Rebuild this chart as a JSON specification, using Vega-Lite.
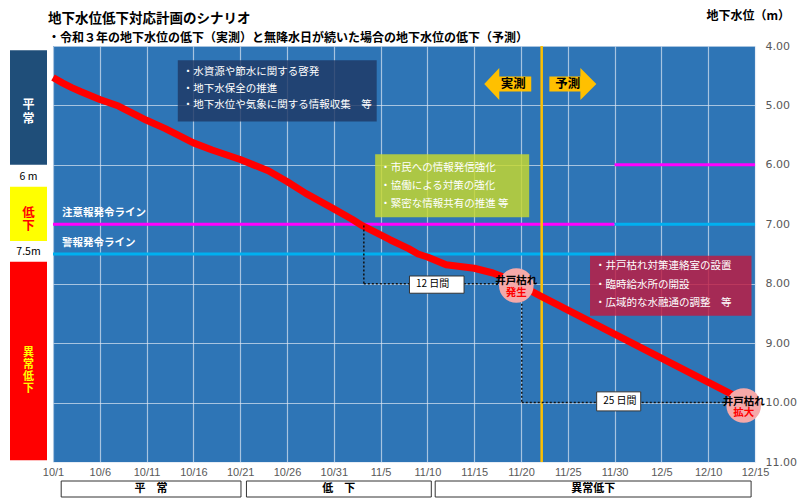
{
  "$schema": "https://vega.github.io/schema/vega-lite/v6.json",
  "autosize": {"type": "pad"},
  "padding": {"left": 10, "top": 9, "right": 0, "bottom": 0},
  "background": "white",
  "config": {"font": "Noto Sans CJK JP", "view": {"stroke": null}},
  "columns": 2,
  "spacing": {"row": 19, "column": 6},
  "bounds": "flush",
  "align": "each",
  "resolve": {"scale": {"color": "independent", "size": "independent", "shape": "independent"}},
  "datasets": {
    "bands": [
      {"band": "平常", "y": 4.07, "y2": 6.0},
      {"band": "低下", "y": 6.37, "y2": 7.28},
      {"band": "異常低下", "y": 7.63, "y2": 10.97}
    ],
    "bandText1": [{"label": "平\n常", "y": 4.99}],
    "bandText2": [{"label": "低\n下", "y": 6.81}],
    "bandText3": [{"label": "異\n常\n低\n下", "y": 9.16}],
    "levelText": [
      {"label": "6 m", "y": 6.2},
      {"label": "7.5m", "y": 7.46}
    ],
    "gw": [
      {"x": "2021/10/01", "y": 4.53}, {"x": "2021/10/02", "y": 4.62}, {"x": "2021/10/03", "y": 4.7},
      {"x": "2021/10/04", "y": 4.77}, {"x": "2021/10/06", "y": 4.9}, {"x": "2021/10/08", "y": 5.01},
      {"x": "2021/10/11", "y": 5.25}, {"x": "2021/10/13", "y": 5.39}, {"x": "2021/10/16", "y": 5.63},
      {"x": "2021/10/18", "y": 5.75}, {"x": "2021/10/21", "y": 5.91}, {"x": "2021/10/24", "y": 6.1},
      {"x": "2021/10/26", "y": 6.28}, {"x": "2021/10/28", "y": 6.48}, {"x": "2021/10/31", "y": 6.74},
      {"x": "2021/11/02", "y": 6.92}, {"x": "2021/11/03", "y": 7.02}, {"x": "2021/11/06", "y": 7.26},
      {"x": "2021/11/08", "y": 7.41}, {"x": "2021/11/09", "y": 7.5}, {"x": "2021/11/10", "y": 7.55},
      {"x": "2021/11/12", "y": 7.68}, {"x": "2021/11/15", "y": 7.74}, {"x": "2021/11/17", "y": 7.82},
      {"x": "2021/11/19", "y": 7.94}, {"x": "2021/11/20", "y": 8.03}, {"x": "2021/11/22", "y": 8.2},
      {"x": "2021/12/13", "y": 9.9}
    ],
    "boxes": [
      {"box": "b1", "x": "2021/10/14 08:00", "x2": "2021/11/04 14:00", "y": 4.24, "y2": 5.27},
      {"box": "b2", "x": "2021/11/04 10:00", "x2": "2021/11/20 21:00", "y": 5.82, "y2": 6.88},
      {"box": "b3", "x": "2021/11/27 09:00", "x2": "2021/12/14 15:00", "y": 7.53, "y2": 8.54}
    ],
    "boxText": [
      {"x": "2021/10/14 08:00", "y": 4.44, "text": "・水資源や節水に関する啓発"},
      {"x": "2021/10/14 08:00", "y": 4.72, "text": "・地下水保全の推進"},
      {"x": "2021/10/14 08:00", "y": 5.0, "text": "・地下水位や気象に関する情報収集　等"},
      {"x": "2021/11/04 10:00", "y": 6.06, "text": "・市民への情報発信強化"},
      {"x": "2021/11/04 10:00", "y": 6.36, "text": "・協働による対策の強化"},
      {"x": "2021/11/04 10:00", "y": 6.66, "text": "・緊密な情報共有の推進 等"},
      {"x": "2021/11/27 09:00", "y": 7.71, "text": "・井戸枯れ対策連絡室の設置"},
      {"x": "2021/11/27 09:00", "y": 8.02, "text": "・臨時給水所の開設"},
      {"x": "2021/11/27 09:00", "y": 8.32, "text": "・広域的な水融通の調整　等"}
    ],
    "levels": [
      {"line": "注意報", "x": "2021/10/01", "x2": "2021/11/30", "y": 7.0},
      {"line": "注意報", "x": "2021/11/30", "x2": "2021/12/15", "y": 6.0},
      {"line": "警報", "x": "2021/10/01", "x2": "2021/11/30", "y": 7.5},
      {"line": "警報", "x": "2021/11/30", "x2": "2021/12/15", "y": 7.0}
    ],
    "lineLabels": [
      {"label": "注意報発令ライン", "x": "2021/10/01", "y": 7.0},
      {"label": "警報発令ライン", "x": "2021/10/01", "y": 7.5}
    ],
    "today": [
      {"x": "2021/11/22 05:00", "y": 4, "y2": 11}
    ],
    "dotted": [
      {"x": "2021/11/03 05:00", "x2": "2021/11/03 05:00", "y": 7.02, "y2": 8.0},
      {"x": "2021/11/03 05:00", "x2": "2021/11/20 02:00", "y": 8.0, "y2": 8.0},
      {"x": "2021/11/20 02:00", "x2": "2021/11/20 02:00", "y": 8.0, "y2": 10.0},
      {"x": "2021/11/20 02:00", "x2": "2021/12/13 19:00", "y": 10.0, "y2": 10.0}
    ],
    "spanBoxes": [
      {"x": "2021/11/08 02:00", "x2": "2021/11/13 22:00", "y": 7.87, "y2": 8.16},
      {"x": "2021/11/28 02:00", "x2": "2021/12/02 19:00", "y": 9.82, "y2": 10.14}
    ],
    "spanText": [
      {"x": "2021/11/08 02:00", "y": 8.01, "label": "12 日間"},
      {"x": "2021/11/28 02:00", "y": 9.98, "label": "25 日間"}
    ],
    "wells": [
      {"x": "2021/11/19 12:00", "y": 8.03, "top": "井戸枯れ", "bottom": "発生"},
      {"x": "2021/12/13 19:00", "y": 10.05, "top": "井戸枯れ", "bottom": "拡大"}
    ],
    "arrows": [
      {"dir": "left", "x": "2021/11/18 14:00", "y": 4.64},
      {"dir": "right", "x": "2021/11/25 13:00", "y": 4.64}
    ],
    "arrowText": [
      {"label": "実測", "x": "2021/11/19 04:00", "y": 4.64},
      {"label": "予測", "x": "2021/11/25 00:00", "y": 4.64}
    ],
    "phases": [
      {"label": "平　常", "x": "2021/10/01 21:00", "x2": "2021/10/21 02:00", "tx": "2021/10/11 11:00"},
      {"label": "低　下", "x": "2021/10/21 16:00", "x2": "2021/11/10 10:00", "tx": "2021/10/31 13:00"},
      {"label": "異常低下", "x": "2021/11/10 20:00", "x2": "2021/12/14 14:00", "tx": "2021/11/27 17:00"}
    ]
  },
  "concat": [
    {
      "width": 37,
      "height": 416,
      "title": {
        "text": "地下水位低下対応計画のシナリオ",
        "subtitle": "　・令和３年の地下水位の低下（実測）と無降水日が続いた場合の地下水位の低下（予測）",
        "anchor": "start",
        "frame": "group",
        "dx": 38,
        "offset": 2,
        "fontSize": 13.5,
        "fontWeight": "bold",
        "color": "#000000",
        "subtitleFontSize": 12,
        "subtitleFontWeight": "bold",
        "subtitleColor": "#000000",
        "subtitlePadding": 8,
        "limit": 0
      },
      "resolve": {"scale": {"color": "independent"}},
      "encoding": {
        "y": {"field": "y", "type": "quantitative", "scale": {"domain": [4, 11], "reverse": true, "nice": false, "zero": false}, "axis": null}
      },
      "layer": [
        {
          "data": {"name": "bands"},
          "mark": {"type": "rect"},
          "encoding": {
            "y2": {"field": "y2"},
            "color": {"field": "band", "type": "nominal", "scale": {"domain": ["平常", "低下", "異常低下"], "range": ["#1f4e79", "#ffff00", "#ff0000"]}, "legend": null}
          }
        },
        {
          "data": {"name": "bandText1"},
          "mark": {"type": "text", "fontWeight": "bold", "fontSize": 12, "lineBreak": "\n", "lineHeight": 14, "baseline": "middle", "align": "center", "color": "#ffffff"},
          "encoding": {"text": {"field": "label"}}
        },
        {
          "data": {"name": "bandText2"},
          "mark": {"type": "text", "fontWeight": "bold", "fontSize": 12.5, "lineBreak": "\n", "lineHeight": 13.5, "baseline": "middle", "align": "center", "color": "#ff0000"},
          "encoding": {"text": {"field": "label"}}
        },
        {
          "data": {"name": "bandText3"},
          "mark": {"type": "text", "fontWeight": "bold", "fontSize": 11, "lineBreak": "\n", "lineHeight": 12, "baseline": "middle", "align": "center", "color": "#ffff00"},
          "encoding": {"text": {"field": "label"}}
        },
        {
          "data": {"name": "levelText"},
          "mark": {"type": "text", "fontSize": 10.5, "color": "#000000", "baseline": "middle", "align": "center"},
          "encoding": {"text": {"field": "label"}}
        }
      ]
    },
    {
      "width": 702,
      "height": 416,
      "view": {"fill": "#2e75b6", "stroke": null},
      "resolve": {"scale": {"color": "independent"}},
      "encoding": {
        "x": {
          "field": "x",
          "type": "temporal",
          "scale": {"domain": [{"year": 2021, "month": 10, "date": 1}, {"year": 2021, "month": 12, "date": 15}], "nice": false},
          "axis": {
            "values": [
              {"year": 2021, "month": 10, "date": 1}, {"year": 2021, "month": 10, "date": 6},
              {"year": 2021, "month": 10, "date": 11}, {"year": 2021, "month": 10, "date": 16},
              {"year": 2021, "month": 10, "date": 21}, {"year": 2021, "month": 10, "date": 26},
              {"year": 2021, "month": 10, "date": 31}, {"year": 2021, "month": 11, "date": 5},
              {"year": 2021, "month": 11, "date": 10}, {"year": 2021, "month": 11, "date": 15},
              {"year": 2021, "month": 11, "date": 20}, {"year": 2021, "month": 11, "date": 25},
              {"year": 2021, "month": 11, "date": 30}, {"year": 2021, "month": 12, "date": 5},
              {"year": 2021, "month": 12, "date": 10}, {"year": 2021, "month": 12, "date": 15}
            ],
            "format": "%-m/%-d",
            "labelFont": "Liberation Sans",
            "labelFontSize": 11,
            "labelColor": "#595959",
            "labelPadding": 4,
            "labelOverlap": false,
            "labelFlush": false,
            "ticks": false,
            "domain": false,
            "grid": true,
            "gridColor": "#dce6f2",
            "gridOpacity": 0.7,
            "gridWidth": 1.2,
            "title": null
          }
        },
        "y": {
          "field": "y",
          "type": "quantitative",
          "scale": {"domain": [4, 11], "reverse": true, "nice": false, "zero": false},
          "axis": {
            "orient": "right",
            "values": [4, 5, 6, 7, 8, 9, 10, 11],
            "format": ".2f",
            "labelFont": "DejaVu Sans",
            "labelFontSize": 11,
            "labelColor": "#595959",
            "labelPadding": 10,
            "labelOverlap": false,
            "labelFlush": false,
            "ticks": false,
            "domain": false,
            "grid": true,
            "gridColor": "#dce6f2",
            "gridOpacity": 0.7,
            "gridWidth": 1.2,
            "title": "地下水位（m）",
            "titleAngle": 0,
            "titleAlign": "left",
            "titleBaseline": "middle",
            "titleX": -49,
            "titleY": -31,
            "titleFontSize": 12,
            "titleFontWeight": "bold",
            "titleColor": "#000000"
          }
        }
      },
      "layer": [
        {
          "data": {"name": "boxes"},
          "mark": {"type": "rect", "opacity": 0.82},
          "encoding": {
            "x2": {"field": "x2"},
            "y2": {"field": "y2"},
            "color": {"field": "box", "type": "nominal", "scale": {"domain": ["b1", "b2", "b3"], "range": ["#1f3864", "#c8d92c", "#c01a40"]}, "legend": null}
          }
        },
        {
          "data": {"name": "boxText"},
          "mark": {"type": "text", "align": "left", "baseline": "middle", "dx": 5, "fontSize": 10.5, "color": "#ffffff"},
          "encoding": {"text": {"field": "text"}}
        },
        {
          "data": {"name": "levels"},
          "mark": {"type": "rule", "strokeWidth": 3},
          "encoding": {
            "x2": {"field": "x2"},
            "color": {"field": "line", "type": "nominal", "scale": {"domain": ["注意報", "警報"], "range": ["#ff00ff", "#00b0f0"]}, "legend": null}
          }
        },
        {
          "data": {"name": "lineLabels"},
          "mark": {"type": "text", "align": "left", "baseline": "middle", "dx": 9, "dy": -11, "fontSize": 10.5, "fontWeight": "bold", "color": "#ffffff"},
          "encoding": {"text": {"field": "label"}}
        },
        {
          "data": {"name": "today"},
          "mark": {"type": "rule", "strokeWidth": 2.5, "color": "#ffc000"},
          "encoding": {"y2": {"field": "y2"}}
        },
        {
          "data": {"name": "gw"},
          "mark": {"type": "line", "strokeWidth": 7, "color": "#ff0000", "strokeJoin": "round"},
          "encoding": {}
        },
        {
          "data": {"name": "dotted"},
          "mark": {"type": "rule", "strokeWidth": 1.5, "strokeDash": [2, 2], "color": "#111111"},
          "encoding": {"x2": {"field": "x2"}, "y2": {"field": "y2"}}
        },
        {
          "data": {"name": "spanBoxes"},
          "mark": {"type": "rect", "fill": "#ffffff", "stroke": "#333333", "strokeWidth": 1},
          "encoding": {"x2": {"field": "x2"}, "y2": {"field": "y2"}}
        },
        {
          "data": {"name": "spanText"},
          "mark": {"type": "text", "align": "left", "baseline": "middle", "dx": 6.5, "fontSize": 10, "color": "#000000"},
          "encoding": {"text": {"field": "label"}}
        },
        {
          "data": {"name": "wells"},
          "mark": {"type": "point", "shape": "circle", "filled": true, "size": 1200, "color": "#f5a9a9", "opacity": 1},
          "encoding": {}
        },
        {
          "data": {"name": "wells"},
          "mark": {"type": "text", "dy": -4, "fontSize": 10.5, "fontWeight": "bold", "color": "#000000"},
          "encoding": {"text": {"field": "top"}}
        },
        {
          "data": {"name": "wells"},
          "mark": {"type": "text", "dy": 7.5, "fontSize": 10.5, "fontWeight": "bold", "color": "#ff0000"},
          "encoding": {"text": {"field": "bottom"}}
        },
        {
          "data": {"name": "arrows"},
          "mark": {"type": "point", "filled": true, "size": 2209, "color": "#ffc000", "opacity": 1},
          "encoding": {
            "shape": {"field": "dir", "type": "nominal", "scale": {"domain": ["left", "right"], "range": ["M-1,0L-0.36,-0.68L-0.36,-0.32L1,-0.32L1,0.32L-0.36,0.32L-0.36,0.68Z", "M1,0L0.32,-0.68L0.32,-0.32L-1,-0.32L-1,0.32L0.32,0.32L0.32,0.68Z"]}, "legend": null}
          }
        },
        {
          "data": {"name": "arrowText"},
          "mark": {"type": "text", "fontSize": 12.5, "fontWeight": "bold", "color": "#000000"},
          "encoding": {"text": {"field": "label"}}
        }
      ]
    },
    {
      "width": 37,
      "height": 16,
      "data": {"values": [{"a": 1}]},
      "mark": {"type": "text", "text": ""},
      "encoding": {}
    },
    {
      "width": 702,
      "height": 16,
      "data": {"name": "phases"},
      "layer": [
        {
          "mark": {"type": "rect", "fill": "#ffffff", "stroke": "#333333", "strokeWidth": 1},
          "encoding": {
            "x": {"field": "x", "type": "temporal", "scale": {"domain": [{"year": 2021, "month": 10, "date": 1}, {"year": 2021, "month": 12, "date": 15}], "nice": false}, "axis": null},
            "x2": {"field": "x2"}
          }
        },
        {
          "mark": {"type": "text", "fontSize": 11, "fontWeight": "bold", "color": "#000000", "baseline": "middle"},
          "encoding": {
            "x": {"field": "tx", "type": "temporal", "axis": null},
            "text": {"field": "label"}
          }
        }
      ]
    }
  ]
}
